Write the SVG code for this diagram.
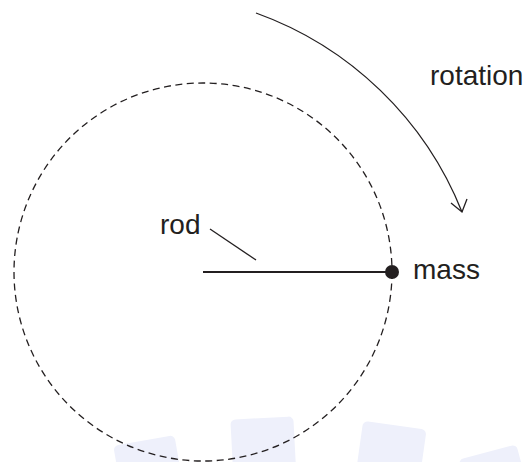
<svg xmlns="http://www.w3.org/2000/svg" width="528" height="462" viewBox="0 0 528 462">
<style>
.t{font-family:"Liberation Sans",Arial,sans-serif;font-size:28px;fill:#231f20}
.wm{fill:#eef0fb}
</style>
<rect width="528" height="462" fill="#ffffff"/>
<g id="watermark">
<rect class="wm" x="118" y="440" width="62" height="60" rx="5" transform="rotate(-10 149 470)"/>
<rect class="wm" x="232" y="418" width="63" height="70" rx="5" transform="rotate(-3 263 450)"/>
<rect class="wm" x="358" y="425" width="64" height="70" rx="5" transform="rotate(8 390 460)"/>
<rect class="wm" x="462" y="452" width="60" height="40" rx="5" transform="rotate(-15 490 470)"/>
</g>
<g id="orbit">
<circle cx="203" cy="272" r="189" fill="none" stroke="#231f20" stroke-width="1.3" stroke-dasharray="7 4.5"/>
</g>
<g id="connectors" fill="none" stroke="#231f20">
<line id="rod-line" x1="203" y1="272" x2="392" y2="272" stroke-width="2.2"/>
<line id="rod-leader" x1="210" y1="229" x2="256" y2="260" stroke-width="1.3"/>
<path id="rotation-arrow" d="M256,13 A349,349 0 0 1 462,212" stroke-width="1.3"/>
<polyline points="451,203 462,212 467,199" stroke-width="1.3"/>
</g>
<g id="mass">
<circle cx="392" cy="272" r="7" fill="#231f20"/>
<text class="t" x="413" y="279">mass</text>
</g>
<g id="rod">
<text class="t" x="160" y="234">rod</text>
</g>
<g id="rotation">
<text class="t" x="430" y="85">rotation</text>
</g>
</svg>
